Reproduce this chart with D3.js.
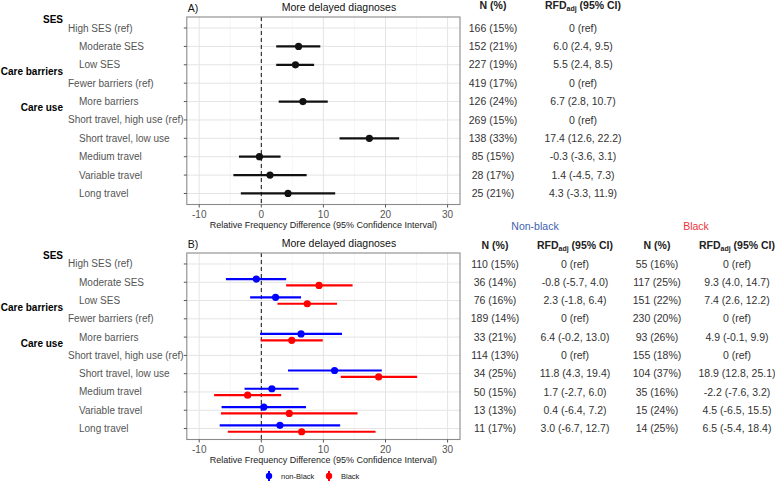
<!DOCTYPE html>
<html>
<head>
<meta charset="utf-8">
<script src="https://cdn.jsdelivr.net/npm/d3@7"></script>
<style>
  body { margin: 0; background: #fff; }
  svg { font-family: "Liberation Sans", Arial, sans-serif; }
</style>
</head>
<body>
<svg id="chart" width="775" height="484"></svg>
<script>
'use strict'

// row labels, shared by both panels
const rowLabels = ["High SES (ref)", "Moderate SES", "Low SES", "Fewer barriers (ref)", "More barriers",
    "Short travel, high use (ref)", "Short travel, low use", "Medium travel", "Variable travel", "Long travel"];
const refRows = [true, false, false, true, false, true, false, false, false, false];
const groupLabels = ["SES", "Care barriers", "Care use"];

// panel A, all patients
const allEst = [null, 6.0, 5.5, null, 6.7, null, 17.4, -0.3, 1.4, 4.3];
const allLo = [null, 2.4, 2.4, null, 2.8, null, 12.6, -3.6, -4.5, -3.3];
const allHi = [null, 9.5, 8.5, null, 10.7, null, 22.2, 3.1, 7.3, 11.9];
const allN = ["166 (15%)", "152 (21%)", "227 (19%)", "419 (17%)", "126 (24%)", "269 (15%)", "138 (33%)", "85 (15%)", "28 (17%)", "25 (21%)"];

// panel B, non-Black
const nbEst = [null, -0.8, 2.3, null, 6.4, null, 11.8, 1.7, 0.4, 3.0];
const nbLo = [null, -5.7, -1.8, null, -0.2, null, 4.3, -2.7, -6.4, -6.7];
const nbHi = [null, 4.0, 6.4, null, 13.0, null, 19.4, 6.0, 7.2, 12.7];
const nbN = ["110 (15%)", "36 (14%)", "76 (16%)", "189 (14%)", "33 (21%)", "114 (13%)", "34 (25%)", "50 (15%)", "13 (13%)", "11 (17%)"];

// panel B, Black
const bEst = [null, 9.3, 7.4, null, 4.9, null, 18.9, -2.2, 4.5, 6.5];
const bLo = [null, 4.0, 2.6, null, -0.1, null, 12.8, -7.6, -6.5, -5.4];
const bHi = [null, 14.7, 12.2, null, 9.9, null, 25.1, 3.2, 15.5, 18.4];
const bN = ["55 (16%)", "117 (25%)", "151 (22%)", "230 (20%)", "93 (26%)", "155 (18%)", "104 (37%)", "35 (16%)", "15 (24%)", "14 (25%)"];

const xTicks = [-10, 0, 10, 20, 30];
const xMinor = [-5, 5, 15, 25];

const svg = d3.select("#chart");

const x = d3.scaleLinear().domain([-12, 32]).range([186.8, 460]);

function fmt(v) { return v.toFixed(1); }

function rfdText(est, lo, hi, i) {
    if (est[i] === null) return "0 (ref)";
    return fmt(est[i]) + " (" + fmt(lo[i]) + ", " + fmt(hi[i]) + ")";
}

function rfdHeader(g, cx, cy) {
    let t = g.append("text")
        .attr("x", cx).attr("y", cy).attr("dy", "0.35em")
        .attr("text-anchor", "middle")
        .attr("font-size", 10.5).attr("font-weight", "bold").attr("fill", "#222");
    t.append("tspan").text("RFD");
    t.append("tspan").attr("font-size", 7).attr("dy", "0.3em").text("adj");
    t.append("tspan").attr("dy", "-0.2em").text(" (95% CI)");
}

function drawPanel(y0, y1, tag, series) {

    const y = d3.scalePoint().domain(d3.range(rowLabels.length)).range([y0, y1]).padding(0.6);
    const g = svg.append("g");

    // grid
    g.selectAll(".minor").data(xMinor).join("line")
        .attr("x1", d => x(d)).attr("x2", d => x(d))
        .attr("y1", y0).attr("y2", y1)
        .attr("stroke", "#f0f0f0").attr("stroke-width", 0.6);
    g.selectAll(".major").data(xTicks).join("line")
        .attr("x1", d => x(d)).attr("x2", d => x(d))
        .attr("y1", y0).attr("y2", y1)
        .attr("stroke", "#e4e4e4").attr("stroke-width", 1);
    g.selectAll(".hgrid").data(d3.range(rowLabels.length)).join("line")
        .attr("x1", x.range()[0]).attr("x2", x.range()[1])
        .attr("y1", d => y(d)).attr("y2", d => y(d))
        .attr("stroke", "#e4e4e4").attr("stroke-width", 1);

    // zero line
    g.append("line")
        .attr("x1", x(0)).attr("x2", x(0))
        .attr("y1", y0).attr("y2", y1)
        .attr("stroke", "#111").attr("stroke-width", 1)
        .attr("stroke-dasharray", "4,3");

    // estimates
    for (let s of series) {
        let rows = d3.range(rowLabels.length).filter(i => s.est[i] !== null);
        g.selectAll(null).data(rows).join("line")
            .attr("x1", i => x(s.lo[i])).attr("x2", i => x(s.hi[i]))
            .attr("y1", i => y(i) + s.dy).attr("y2", i => y(i) + s.dy)
            .attr("stroke", s.color).attr("stroke-width", 2.2);
        g.selectAll(null).data(rows).join("circle")
            .attr("cx", i => x(s.est[i])).attr("cy", i => y(i) + s.dy)
            .attr("r", 3.6).attr("fill", s.color);
    }

    // border
    g.append("rect")
        .attr("x", x.range()[0]).attr("y", y0)
        .attr("width", x.range()[1] - x.range()[0]).attr("height", y1 - y0)
        .attr("fill", "none").attr("stroke", "#8a8a8a").attr("stroke-width", 1.1);

    // y ticks and labels
    g.selectAll(".ytick").data(d3.range(rowLabels.length)).join("line")
        .attr("x1", x.range()[0] - 3).attr("x2", x.range()[0])
        .attr("y1", d => y(d)).attr("y2", d => y(d))
        .attr("stroke", "#555");
    g.selectAll(".ylab").data(rowLabels).join("text")
        .attr("x", (d, i) => refRows[i] ? 68 : 79)
        .attr("y", (d, i) => y(i)).attr("dy", "0.35em")
        .attr("font-size", 10).attr("fill", "#555")
        .text(d => d);

    // group labels
    const groupRow = [-0.45, 2.38, 4.33];
    const step = y.step();
    g.selectAll(".grp").data(groupLabels).join("text")
        .attr("x", 63).attr("text-anchor", "end")
        .attr("y", (d, i) => y(0) + groupRow[i] * step).attr("dy", "0.35em")
        .attr("font-size", 10).attr("font-weight", "bold").attr("fill", "#000")
        .text(d => d);

    // x axis
    g.selectAll(".xtick").data(xTicks).join("line")
        .attr("x1", d => x(d)).attr("x2", d => x(d))
        .attr("y1", y1).attr("y2", y1 + 3)
        .attr("stroke", "#555");
    g.selectAll(".xlab").data(xTicks).join("text")
        .attr("x", d => x(d)).attr("y", y1 + 9.5).attr("dy", "0.35em")
        .attr("text-anchor", "middle").attr("font-size", 10).attr("fill", "#555")
        .text(d => d < 0 ? "-" + Math.abs(d) : d);
    g.append("text")
        .attr("x", (x.range()[0] + x.range()[1]) / 2).attr("y", y1 + 20.5).attr("dy", "0.35em")
        .attr("text-anchor", "middle").attr("font-size", 9).attr("fill", "#222")
        .text("Relative Frequency Difference (95% Confidence Interval)");

    // title and tag
    g.append("text")
        .attr("x", x.range()[0] + 1).attr("y", y0 - 9).attr("dy", "0.35em")
        .attr("font-size", 10.5).attr("fill", "#111").text(tag);
    g.append("text")
        .attr("x", 339).attr("y", y0 - 10).attr("dy", "0.35em")
        .attr("text-anchor", "middle").attr("font-size", 10.5).attr("fill", "#111")
        .text("More delayed diagnoses");

    return y;
}

function drawTable(y, cols, headerY) {
    for (let c of cols) {
        svg.append("text")
            .attr("x", c.nx).attr("y", headerY).attr("dy", "0.35em")
            .attr("text-anchor", "middle").attr("font-size", 10.5)
            .attr("font-weight", "bold").attr("fill", "#222")
            .text("N (%)");
        rfdHeader(svg, c.rx, headerY);

        svg.selectAll(null).data(c.n).join("text")
            .attr("x", c.nx).attr("y", (d, i) => y(i)).attr("dy", "0.35em")
            .attr("text-anchor", "middle").attr("font-size", 10.5).attr("fill", "#333")
            .text(d => d);
        svg.selectAll(null).data(rowLabels).join("text")
            .attr("x", c.rx).attr("y", (d, i) => y(i)).attr("dy", "0.35em")
            .attr("text-anchor", "middle").attr("font-size", 10.5).attr("fill", "#333")
            .text((d, i) => rfdText(c.est, c.lo, c.hi, i));
    }
}

// panel A
let yA = drawPanel(17, 204.5, "A)", [
    { est: allEst, lo: allLo, hi: allHi, color: "#111", dy: 0 }
]);
drawTable(yA, [{ n: allN, est: allEst, lo: allLo, hi: allHi, nx: 493, rx: 583 }], 5.5);

// panel B
let yB = drawPanel(253, 439.5, "B)", [
    { est: nbEst, lo: nbLo, hi: nbHi, color: "#0000ff", dy: -3.2 },
    { est: bEst, lo: bLo, hi: bHi, color: "#ff0000", dy: 3.2 }
]);
drawTable(yB, [
    { n: nbN, est: nbEst, lo: nbLo, hi: nbHi, nx: 495, rx: 575 },
    { n: bN, est: bEst, lo: bLo, hi: bHi, nx: 657, rx: 737 }
], 245);

svg.append("text")
    .attr("x", 535).attr("y", 226).attr("dy", "0.35em")
    .attr("text-anchor", "middle").attr("font-size", 10.5).attr("fill", "#3d62b0")
    .text("Non-black");
svg.append("text")
    .attr("x", 696).attr("y", 226).attr("dy", "0.35em")
    .attr("text-anchor", "middle").attr("font-size", 10.5).attr("fill", "#f0323c")
    .text("Black");

// legend
const legendItems = [
    { label: "non-Black", color: "#0000ff", kx: 269 },
    { label: "Black", color: "#ff0000", kx: 329 }
];
const legend = svg.append("g");
for (let item of legendItems) {
    legend.append("line")
        .attr("x1", item.kx).attr("x2", item.kx)
        .attr("y1", 471).attr("y2", 481)
        .attr("stroke", item.color).attr("stroke-width", 2);
    legend.append("circle")
        .attr("cx", item.kx).attr("cy", 476).attr("r", 3.2).attr("fill", item.color);
    legend.append("text")
        .attr("x", item.kx + 12).attr("y", 476).attr("dy", "0.35em")
        .attr("font-size", 7.5).attr("fill", "#222")
        .text(item.label);
}
</script>
</body>
</html>
